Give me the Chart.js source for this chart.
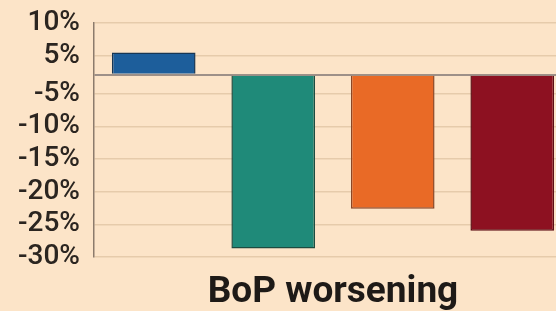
<!DOCTYPE html>
<html>
<head>
<meta charset="utf-8">
<script src="https://cdn.jsdelivr.net/npm/chart.js@4.4.1/dist/chart.umd.min.js"></script>
<style>
  html, body { margin: 0; padding: 0; background: #fce4c8; overflow: hidden; }
  #wrap { width: 572px; height: 311px; position: relative; }
</style>
</head>
<body>
<div id="wrap"><canvas id="bopChart"></canvas></div>
<script>
// values (percent)
const categories = ['Bar 1', 'Bar 2', 'Bar 3', 'Bar 4'];
const bopChange = [5.5, -28.7, -22.6, -26.0];
const barColors = ['#1d5e9b', '#1f8a79', '#e96a26', '#8d1121'];
const barEdges = ['#173654', '#1c4c40', '#8a4626', '#5c0d15'];
const tickValues = [10, 5, 0, -5, -10, -15, -20, -25, -30];

// the source squeezes the band between -5% and 5%
const SQUEEZE = 0.58;
const BAND = 5;

function warp(v) {
    if (v > BAND) return v - BAND + BAND * SQUEEZE;
    if (v < -BAND) return v + BAND - BAND * SQUEEZE;
    return v * SQUEEZE;
}
function unwarp(u) {
    const edge = BAND * SQUEEZE;
    if (u > edge) return u - edge + BAND;
    if (u < -edge) return u + edge - BAND;
    return u / SQUEEZE;
}

class SqueezedScale extends Chart.LinearScale {
    getPixelForValue(value) {
        const a = warp(this.min), b = warp(this.max);
        return this.getPixelForDecimal((warp(value) - a) / (b - a));
    }
    getValueForPixel(pixel) {
        const a = warp(this.min), b = warp(this.max);
        return unwarp(a + this.getDecimalForPixel(pixel) * (b - a));
    }
}
SqueezedScale.id = 'squeezed';
SqueezedScale.defaults = Chart.LinearScale.defaults;
Chart.register(SqueezedScale);

const ctx = document.getElementById('bopChart').getContext('2d');
new Chart(ctx, {
    type: 'bar',
    data: {
        labels: categories,
        datasets: [{
            data: bopChange,
            backgroundColor: barColors,
            borderColor: barEdges,
            borderWidth: 1.5,
            barPercentage: 0.7,
            categoryPercentage: 1
        }]
    },
    options: {
        responsive: true,
        maintainAspectRatio: false,
        animation: false,
        layout: { padding: { left: 4, top: 23, right: 0, bottom: 0 } },
        plugins: {
            legend: { display: false },
            tooltip: { enabled: false }
        },
        scales: {
            x: {
                type: 'category',
                ticks: { display: false },
                grid: { display: false, drawTicks: false },
                border: { display: false },
                title: {
                    display: true,
                    text: 'BoP worsening',
                    color: '#1e1a17',
                    font: { family: 'Roboto', size: 37, weight: 'bold', lineHeight: 1 },
                    padding: { top: 17, bottom: 0 }
                }
            },
            y: {
                type: 'squeezed',
                min: -30,
                max: 10,
                afterBuildTicks: (scale) => {
                    scale.ticks = tickValues.map(v => ({ value: v }));
                },
                afterFit: (scale) => {
                    // label overflow is covered by layout padding
                    scale.paddingTop = 0;
                    scale.paddingBottom = 0;
                },
                ticks: {
                    autoSkip: false,
                    padding: 14,
                    color: '#2b2520',
                    font: { family: 'Roboto', size: 28, weight: '500' },
                    callback: (v) => v === 0 ? '' : v + '%'
                },
                grid: {
                    drawTicks: false,
                    color: (c) => c.tick && c.tick.value === 0 ? '#9d9088' : '#e6cbab',
                    lineWidth: (c) => c.tick && c.tick.value === 0 ? 2 : 1.5
                },
                border: { display: true, color: '#8c7b6c', width: 1.5 }
            }
        }
    }
});
</script>
</body>
</html>
